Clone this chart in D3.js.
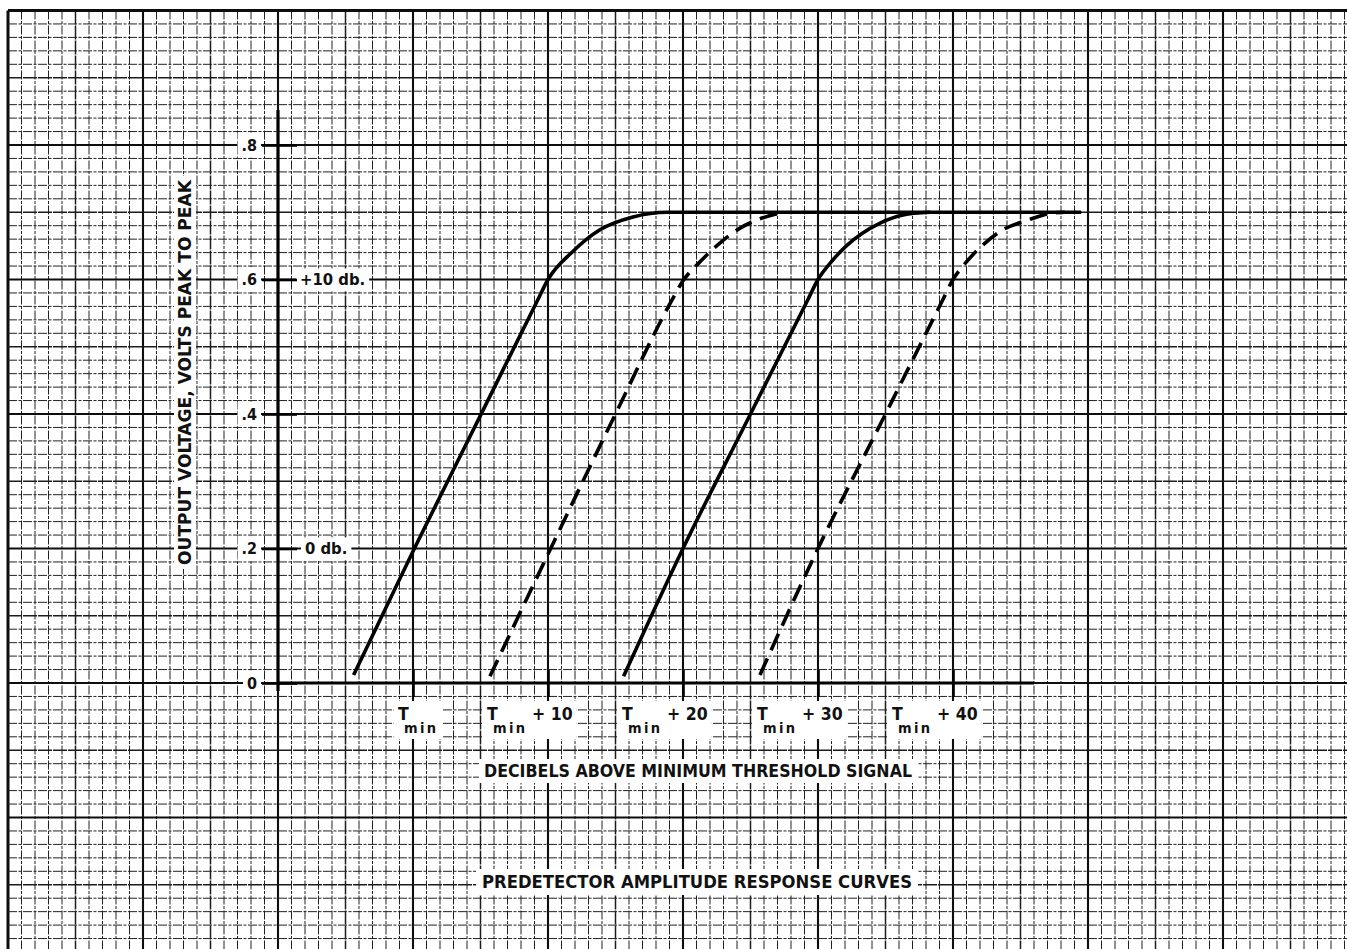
<!DOCTYPE html>
<html>
<head>
<meta charset="utf-8">
<script src="https://cdn.jsdelivr.net/npm/d3@7"></script>
<style>
  body { margin: 0; background: #fff; }
  svg { display: block; }
</style>
</head>
<body>
<script>
// ---- data -------------------------------------------------------------
// paper extent: dB relative to T(min), output volts peak-to-peak
const paperDb = [-30, 70];
const paperV = [-0.4, 1.0];

const xTickDb = [0, 10, 20, 30, 40];
const xTickSuffix = ["", "+ 10", "+ 20", "+ 30", "+ 40"];
const yTickV = [0, 0.2, 0.4, 0.6, 0.8];
const yTickLabels = ["0", ".2", ".4", ".6", ".8"];
const dbRefV = [0.6, 0.2];
const dbRefLabels = ["+10 db.", "0 db."];

// response curves: [dB above T(min), volts p-p]
const curveA = [[-4.4, 0.012], [0.1, 0.2], [5, 0.398], [9.2, 0.568], [10, 0.6], [11.8, 0.641], [13.85, 0.674], [16.3, 0.693], [18.8, 0.70], [49.5, 0.70]];
const curveB = [[5.7, 0.01], [10.2, 0.2], [15, 0.4], [19.2, 0.57], [20, 0.598], [21.3, 0.627], [22.6, 0.652], [24.2, 0.676], [25.8, 0.691], [27.4, 0.70]];
const curveC = [[15.6, 0.01], [20, 0.2], [25, 0.4], [29.2, 0.568], [30, 0.6], [31.1, 0.629], [32.1, 0.65], [34.6, 0.684], [36.3, 0.696], [38.3, 0.70]];
const curveD = [[25.7, 0.012], [30, 0.2], [35, 0.4], [39.2, 0.568], [40, 0.6], [40.9, 0.624], [42.2, 0.651], [43.7, 0.674], [45.5, 0.688], [47.4, 0.699], [48.3, 0.70]];
const curves = [
  { pts: curveA, dashed: false },
  { pts: curveB, dashed: true },
  { pts: curveC, dashed: false },
  { pts: curveD, dashed: true }
];

// ---- setup ------------------------------------------------------------
const W = 1347, H = 949;
const x = d3.scaleLinear().domain(paperDb).range([8, 1358]);
const y = d3.scaleLinear().domain(paperV).range([952, 10.5]);

const svg = d3.select("body").append("svg")
  .attr("width", W).attr("height", H)
  .style("background", "#fff");

const gGrid = svg.append("g");
const gBox = svg.append("g");
const gAxis = svg.append("g");
const gCurve = svg.append("g");
const gText = svg.append("g");

const FONT = "'DejaVu Sans Condensed', 'DejaVu Sans', sans-serif";

// ---- graph paper ------------------------------------------------------
const lineStyle = {
  major: { w: 2.1, c: "#0d0d0d", dash: null },
  mid: { w: 1.5, c: "#1c1c1c", dash: "14 1" },
  minor: { w: 1, c: "#222", dash: "9 1.5 3 1.5" }
};
const kind = n => (n % 10 === 0 ? "major" : (n % 5 === 0 ? "mid" : "minor"));

const dbSteps = d3.range(paperDb[0], paperDb[1] + 1);      // 1 dB per division
const vSteps = d3.range(-20, 51);                           // 0.02 V per division

gGrid.selectAll("line.v").data(dbSteps).join("line")
  .attr("class", "v")
  .attr("x1", d => x(d)).attr("x2", d => x(d))
  .attr("y1", y(paperV[1])).attr("y2", H)
  .attr("stroke", d => lineStyle[kind(d)].c)
  .attr("stroke-width", d => d === paperDb[0] ? 3 : lineStyle[kind(d)].w)
  .attr("stroke-dasharray", d => d === paperDb[0] ? null : lineStyle[kind(d)].dash);

gGrid.selectAll("line.h").data(vSteps).join("line")
  .attr("class", "h")
  .attr("x1", x(paperDb[0])).attr("x2", W)
  .attr("y1", d => y(d * 0.02)).attr("y2", d => y(d * 0.02))
  .attr("stroke", d => lineStyle[kind(d)].c)
  .attr("stroke-width", d => d === 50 ? 3 : lineStyle[kind(d)].w)
  .attr("stroke-dasharray", d => d === 50 ? null : lineStyle[kind(d)].dash);

// white patch behind a text element
function patch(sel, px, py) {
  const b = sel.node().getBBox();
  gBox.append("rect")
    .attr("x", b.x - px).attr("y", b.y - py)
    .attr("width", b.width + 2 * px).attr("height", b.height + 2 * py)
    .attr("fill", "#fff");
}

// ---- axes -------------------------------------------------------------
const x0 = x(-10), y0 = y(0);

// main axis lines
gAxis.append("line")
  .attr("x1", x0).attr("x2", x0)
  .attr("y1", y(0.852)).attr("y2", y(-0.012))
  .attr("stroke", "#000").attr("stroke-width", 3.2);
gAxis.append("line")
  .attr("x1", x0).attr("x2", x(46))
  .attr("y1", y0).attr("y2", y0)
  .attr("stroke", "#000").attr("stroke-width", 3.2);

// y axis: ticks to the left with labels, short extension right
const yAxisL = d3.axisLeft(y).tickValues(yTickV)
  .tickSizeInner(16).tickSizeOuter(0).tickPadding(5)
  .tickFormat((d, i) => yTickLabels[i]);
const gy = gAxis.append("g").attr("transform", `translate(${x0},0)`).call(yAxisL);
gy.select(".domain").remove();
gy.selectAll(".tick line").attr("stroke", "#000").attr("stroke-width", 2.6);
gy.selectAll(".tick text")
  .attr("font-family", FONT).attr("font-size", 16).attr("font-weight", "bold")
  .attr("fill", "#111");
gy.attr("font-family", null).attr("font-size", null);

const yAxisR = d3.axisRight(y).tickValues(yTickV)
  .tickSizeInner(19).tickSizeOuter(0).tickFormat("");
const gyr = gAxis.append("g").attr("transform", `translate(${x0},0)`).call(yAxisR);
gyr.select(".domain").remove();
gyr.selectAll(".tick line").attr("stroke", "#000").attr("stroke-width", 2.6);

// x axis: ticks crossing the baseline
const xAxisB = d3.axisBottom(x).tickValues(xTickDb)
  .tickSizeInner(14).tickSizeOuter(0).tickFormat("");
const gx = gAxis.append("g").attr("transform", `translate(0,${y0})`).call(xAxisB);
gx.select(".domain").remove();
gx.selectAll(".tick line").attr("stroke", "#000").attr("stroke-width", 2.6);

const xAxisT = d3.axisTop(x).tickValues(xTickDb)
  .tickSizeInner(13).tickSizeOuter(0).tickFormat("");
const gxt = gAxis.append("g").attr("transform", `translate(0,${y0})`).call(xAxisT);
gxt.select(".domain").remove();
gxt.selectAll(".tick line").attr("stroke", "#000").attr("stroke-width", 2.6);

// patches behind y tick labels
gy.selectAll(".tick text").each(function () {
  const b = this.getBBox();
  const m = this.parentNode.transform.baseVal.consolidate().matrix;
  gBox.append("rect")
    .attr("x", x0 + b.x - 4).attr("y", m.f + b.y - 3)
    .attr("width", b.width + 8).attr("height", b.height + 6)
    .attr("fill", "#fff");
});

// dB reference labels right of the axis
dbRefV.forEach((v, i) => {
  const t = gText.append("text")
    .attr("x", x0 + 22 + (i === 1 ? 5 : 0)).attr("y", y(v)).attr("dy", "0.36em")
    .attr("font-family", FONT).attr("font-size", 16.5).attr("font-weight", "bold")
    .attr("fill", "#111").text(dbRefLabels[i]);
  patch(t, 4, 2);
});

// x tick labels: T with subscript "min", then the offset
xTickDb.forEach((d, i) => {
  const cx = x(d);
  const g = gText.append("g");
  const tx = d === 0 ? cx - 15 : cx - 61;
  g.append("text")
    .attr("x", tx).attr("y", y0 + 37)
    .attr("font-family", FONT).attr("font-size", 17.5).attr("font-weight", "bold")
    .attr("fill", "#111").text("T");
  g.append("text")
    .attr("x", tx + 6).attr("y", y0 + 50)
    .attr("font-family", FONT).attr("font-size", 14.5).attr("font-weight", "bold")
    .attr("letter-spacing", 2.4)
    .attr("fill", "#111").text("min");
  if (xTickSuffix[i]) {
    g.append("text")
      .attr("x", cx - 16).attr("y", y0 + 37)
      .attr("font-family", FONT).attr("font-size", 17.5).attr("font-weight", "bold")
      .attr("fill", "#111").text(xTickSuffix[i]);
  }
  patch(g, 4, 3);
});

// ---- curves -----------------------------------------------------------
const line = d3.line()
  .x(d => x(d[0])).y(d => y(d[1]))
  .curve(d3.curveMonotoneX);

gCurve.selectAll("path").data(curves).join("path")
  .attr("d", d => line(d.pts))
  .attr("fill", "none")
  .attr("stroke", "#000")
  .attr("stroke-width", 3.6)
  .attr("stroke-linejoin", "round")
  .attr("stroke-dasharray", d => d.dashed ? "18 9" : null);

// ---- titles -----------------------------------------------------------
const xTitle = gText.append("text")
  .attr("x", 484).attr("y", 777)
  .attr("font-family", FONT).attr("font-size", 17).attr("font-weight", "bold")
  .attr("textLength", 428).attr("lengthAdjust", "spacingAndGlyphs")
  .attr("fill", "#111").text("DECIBELS ABOVE MINIMUM THRESHOLD SIGNAL");
patch(xTitle, 5, 2);

const title = gText.append("text")
  .attr("x", 482).attr("y", 888)
  .attr("font-family", FONT).attr("font-size", 17).attr("font-weight", "bold")
  .attr("textLength", 430).attr("lengthAdjust", "spacingAndGlyphs")
  .attr("fill", "#111").text("PREDETECTOR AMPLITUDE RESPONSE CURVES");
patch(title, 6, 3);

gText.append("text")
  .attr("transform", "translate(191,565) rotate(-90)")
  .attr("x", 0).attr("y", 0)
  .attr("font-family", FONT).attr("font-size", 17).attr("font-weight", "bold")
  .attr("textLength", 385).attr("lengthAdjust", "spacingAndGlyphs")
  .attr("fill", "#111").text("OUTPUT VOLTAGE, VOLTS PEAK TO PEAK");
gBox.append("rect")
  .attr("x", 174).attr("y", 176).attr("width", 22).attr("height", 393)
  .attr("fill", "#fff");
</script>
</body>
</html>
